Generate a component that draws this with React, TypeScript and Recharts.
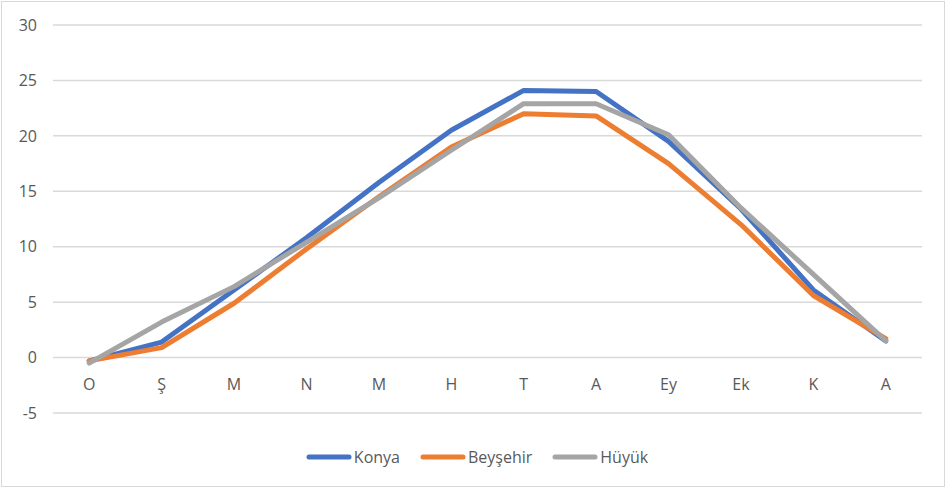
import React from 'react';
import { LineChart, Line, XAxis, YAxis, CartesianGrid, Legend } from 'recharts';

const months = ['O', 'Ş', 'M', 'N', 'M', 'H', 'T', 'A', 'Ey', 'Ek', 'K', 'A'];
const konya = [-0.3, 1.4, 6.1, 10.8, 15.8, 20.5, 24.1, 24.0, 19.5, 13.4, 6.1, 1.5];
const beysehir = [-0.3, 0.9, 4.9, 9.8, 14.5, 19.0, 22.0, 21.8, 17.5, 12.0, 5.6, 1.7];
const huyuk = [-0.5, 3.2, 6.4, 10.4, 14.4, 18.7, 22.9, 22.9, 20.1, 13.5, 7.5, 1.5];
const yTicks = [-5, 0, 5, 10, 15, 20, 25, 30];

const seriesNames = ['Konya', 'Beyşehir', 'Hüyük'];
const seriesColors = ['#4472C4', '#ED7D31', '#A5A5A5'];

const data = months.map((m, i) => ({
  idx: i,
  Konya: konya[i],
  'Beyşehir': beysehir[i],
  'Hüyük': huyuk[i],
}));

const FONT = "'Open Sans', 'Noto Sans', sans-serif";

const XTick = (props: any) => {
  const { x, y, payload } = props;
  return (
    <text x={x} y={y - 31} textAnchor="middle" fill="#595959" fontSize={16} fontFamily={FONT}>
      {months[payload.value]}
    </text>
  );
};

const LegendContent = () => (
  <div style={{ display: 'flex', justifyContent: 'center', gap: 20, fontFamily: FONT, fontSize: 16, color: '#595959', marginLeft: 32 }}>
    {seriesNames.map((n, i) => (
      <div key={n} style={{ display: 'flex', alignItems: 'center' }}>
        <svg width={46} height={8} style={{ marginRight: 2 }}>
          <line x1={3} y1={4} x2={43} y2={4} stroke={seriesColors[i]} strokeWidth={5} strokeLinecap="round" />
        </svg>
        <span>{n}</span>
      </div>
    ))}
  </div>
);

export default function App() {
  return (
    <div style={{ position: 'absolute', left: 0, top: 0, width: 949, height: 491 }}>
      <div style={{ position: 'absolute', left: 1, top: 1, width: 944, height: 486, border: '1.5px solid #D9D9D9', boxSizing: 'border-box' }} />
      <LineChart width={949} height={491} data={data} margin={{ top: 25, right: 27, left: 0, bottom: 23 }}>
        <CartesianGrid vertical={false} stroke="#D9D9D9" strokeWidth={1.5} />
        <XAxis dataKey="idx" type="category" scale="band" axisLine={false} tickLine={false} tick={<XTick />} height={33} interval={0} />
        <YAxis
          domain={[-5, 30]}
          ticks={yTicks}
          axisLine={false}
          tickLine={false}
          width={53}
          tickMargin={10}
          tick={{ fill: '#595959', fontSize: 16, fontFamily: FONT }}
          interval={0}
        />
        <Legend verticalAlign="bottom" content={<LegendContent />} />
        {seriesNames.map((n, i) => (
          <Line
            key={n}
            dataKey={n}
            stroke={seriesColors[i]}
            strokeWidth={5}
            dot={false}
            isAnimationActive={false}
            strokeLinejoin="round"
            strokeLinecap="round"
          />
        ))}
      </LineChart>
    </div>
  );
}
